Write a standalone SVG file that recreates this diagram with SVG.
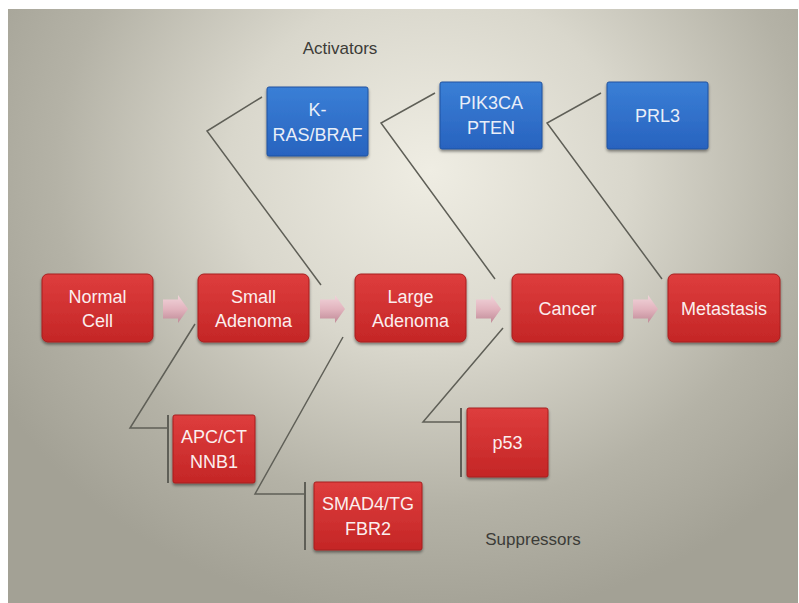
<svg xmlns="http://www.w3.org/2000/svg" width="799" height="603" viewBox="0 0 799 603">
<defs>
<radialGradient id="bg" cx="430" cy="170" r="500" gradientUnits="userSpaceOnUse" gradientTransform="translate(430 170) scale(1 0.9) translate(-430 -170)">
<stop offset="0" stop-color="#efede3"/>
<stop offset="0.4" stop-color="#d9d7cc"/>
<stop offset="0.75" stop-color="#b4b2a6"/>
<stop offset="1" stop-color="#a3a195"/>
</radialGradient>
<linearGradient id="red" x1="0" y1="0" x2="0" y2="1">
<stop offset="0" stop-color="#de3d3d"/>
<stop offset="1" stop-color="#c42626"/>
</linearGradient>
<linearGradient id="blue" x1="0" y1="0" x2="0" y2="1">
<stop offset="0" stop-color="#3a7fd6"/>
<stop offset="1" stop-color="#2863bf"/>
</linearGradient>
<linearGradient id="pink" x1="0" y1="0" x2="0" y2="1">
<stop offset="0" stop-color="#f1d4da"/>
<stop offset="0.5" stop-color="#e2b4be"/>
<stop offset="1" stop-color="#c08a97"/>
</linearGradient>
<filter id="sh" x="-10%" y="-10%" width="120%" height="130%">
<feGaussianBlur in="SourceAlpha" stdDeviation="1.5"/>
<feOffset dy="2" result="b"/>
<feComponentTransfer><feFuncA type="linear" slope="0.45"/></feComponentTransfer>
<feMerge><feMergeNode/><feMergeNode in="SourceGraphic"/></feMerge>
</filter>
<path id="arr" d="M0 -9.5 H15 V-14 L25 0 L15 14 V9.5 H0 Z"/>
</defs>
<style>
.main{fill:url(#red);stroke:#a81e1e;stroke-width:1;filter:url(#sh)}
.sup{fill:url(#red);stroke:#a81e1e;stroke-width:1;filter:url(#sh)}
.act{fill:url(#blue);stroke:#2152a0;stroke-width:1;filter:url(#sh)}
.t{font-family:"Liberation Sans",Arial,sans-serif;font-size:18px;fill:#fbeeee;text-anchor:middle}
.tb{font-family:"Liberation Sans",Arial,sans-serif;font-size:18px;fill:#e9eef8;text-anchor:middle}
.lab{font-family:"Liberation Sans",Arial,sans-serif;font-size:17px;fill:#3c3c38;text-anchor:middle}
.ln{fill:none;stroke:#5f5f57;stroke-width:1.5;stroke-linejoin:miter}
.bar{stroke:#5f5f57;stroke-width:2}
.ar{fill:url(#pink)}
</style>
<rect x="0" y="0" width="799" height="603" fill="#ffffff"/>
<rect x="8" y="9" width="790" height="594" fill="url(#bg)"/>

<g id="labels">
<text class="lab" x="340" y="54">Activators</text>
<text class="lab" x="533" y="545">Suppressors</text>
</g>

<g id="connectors">
<polyline class="ln" points="262,97 207,131 321,285"/>
<polyline class="ln" points="435,93 381,123 495,279"/>
<polyline class="ln" points="601,93 547,123 662,279"/>
<polyline class="ln" points="195,324 130,428 168,428"/>
<line class="bar" x1="168" y1="415" x2="168" y2="483"/>
<polyline class="ln" points="343,337 255,494 305,494"/>
<line class="bar" x1="305" y1="482" x2="305" y2="550"/>
<polyline class="ln" points="503,328 423,422 461,422"/>
<line class="bar" x1="461" y1="408" x2="461" y2="477"/>
<use class="ar" href="#arr" x="163" y="309"/>
<use class="ar" href="#arr" x="320" y="309"/>
<use class="ar" href="#arr" x="476" y="309"/>
<use class="ar" href="#arr" x="633" y="309"/>
</g>

<g id="normal-cell">
<rect class="main" x="42" y="274" width="111" height="68" rx="6"/>
<text class="t" x="97.5" y="303">Normal</text>
<text class="t" x="97.5" y="327">Cell</text>
</g>
<g id="small-adenoma">
<rect class="main" x="198" y="274" width="111" height="68" rx="6"/>
<text class="t" x="253.5" y="303">Small</text>
<text class="t" x="253.5" y="327">Adenoma</text>
</g>
<g id="large-adenoma">
<rect class="main" x="355" y="274" width="111" height="68" rx="6"/>
<text class="t" x="410.5" y="303">Large</text>
<text class="t" x="410.5" y="327">Adenoma</text>
</g>
<g id="cancer">
<rect class="main" x="512" y="274" width="111" height="68" rx="6"/>
<text class="t" x="567.5" y="315">Cancer</text>
</g>
<g id="metastasis">
<rect class="main" x="668" y="274" width="112" height="68" rx="6"/>
<text class="t" x="724" y="315">Metastasis</text>
</g>

<g id="kras-braf">
<rect class="act" x="267" y="87" width="101" height="69" rx="2"/>
<text class="tb" x="317.5" y="116">K-</text>
<text class="tb" x="317.5" y="141">RAS/BRAF</text>
</g>
<g id="pik3ca-pten">
<rect class="act" x="440" y="82" width="102" height="67" rx="2"/>
<text class="tb" x="491" y="109">PIK3CA</text>
<text class="tb" x="491" y="134">PTEN</text>
</g>
<g id="prl3">
<rect class="act" x="607" y="82" width="101" height="67" rx="2"/>
<text class="tb" x="657.5" y="122">PRL3</text>
</g>

<g id="apc-ctnnb1">
<rect class="sup" x="173" y="415" width="82" height="68" rx="2"/>
<text class="t" x="214" y="443">APC/CT</text>
<text class="t" x="214" y="468">NNB1</text>
</g>
<g id="smad4-tgfbr2">
<rect class="sup" x="314" y="482" width="108" height="68" rx="2"/>
<text class="t" x="368" y="510">SMAD4/TG</text>
<text class="t" x="368" y="535">FBR2</text>
</g>
<g id="p53">
<rect class="sup" x="467" y="408" width="81" height="69" rx="2"/>
<text class="t" x="507.5" y="449">p53</text>
</g>
</svg>
